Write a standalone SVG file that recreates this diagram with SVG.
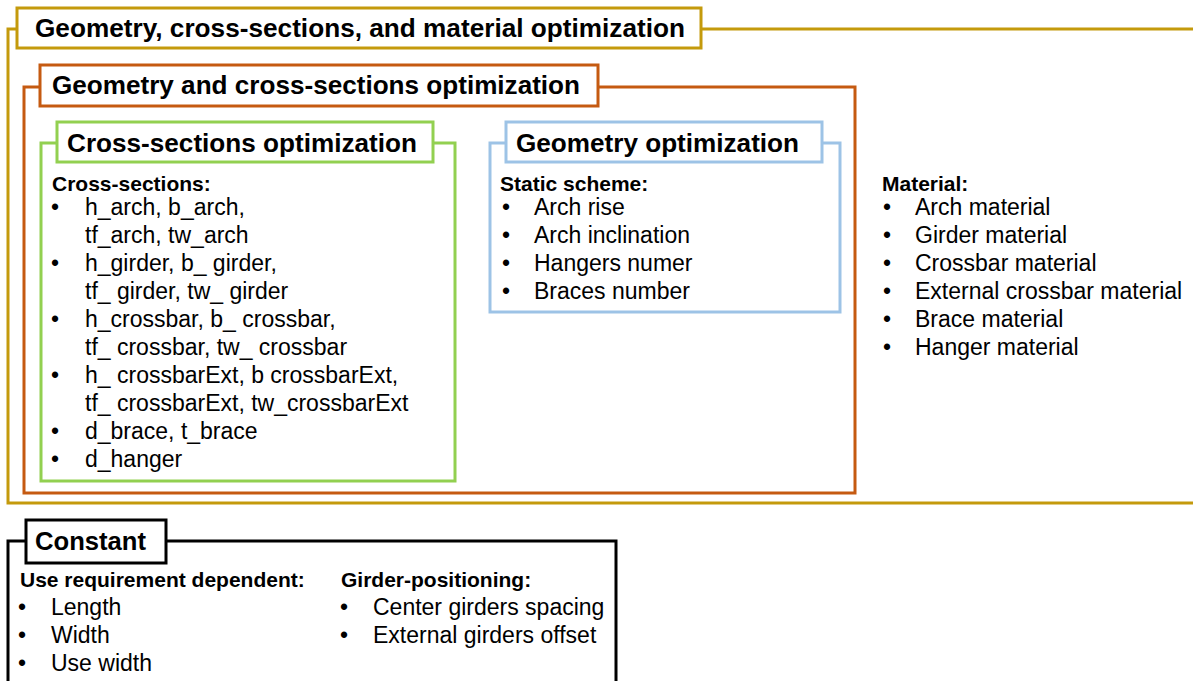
<svg xmlns="http://www.w3.org/2000/svg" width="1193" height="681" viewBox="0 0 1193 681">
<style>
.frame{fill:none;stroke-width:3}
.tbox{fill:#fff;stroke-width:3}
.gold{stroke:#C49A0C}
.orange{stroke:#C55A11}
.green{stroke:#92D050}
.blue{stroke:#9DC3E6}
.black{stroke:#000}
.title{font-family:"Liberation Sans",Arial,sans-serif;font-weight:bold;font-size:26px;fill:#000}
.head{font-family:"Liberation Sans",Arial,sans-serif;font-weight:bold;font-size:21px;fill:#000}
.body{font-family:"Liberation Sans",Arial,sans-serif;font-size:23px;fill:#000}
</style>
<rect width="1193" height="681" fill="#fff"/>
<g id="outer">
<rect class="frame gold" x="8" y="29" width="1200" height="474"/>
<rect class="tbox gold" x="17" y="8" width="684" height="40"/>
<text class="title" x="35" y="37" textLength="650" lengthAdjust="spacingAndGlyphs">Geometry, cross-sections, and material optimization</text>
<text class="head" x="882" y="191">Material:</text>
<g class="body">
<text x="883" y="215">•</text><text x="915" y="215">Arch material</text>
<text x="883" y="243">•</text><text x="915" y="243">Girder material</text>
<text x="883" y="271">•</text><text x="915" y="271">Crossbar material</text>
<text x="883" y="299">•</text><text x="915" y="299">External crossbar material</text>
<text x="883" y="327">•</text><text x="915" y="327">Brace material</text>
<text x="883" y="355">•</text><text x="915" y="355">Hanger material</text>
</g>
</g>
<g id="geom-cross">
<rect class="frame orange" x="24" y="87" width="831" height="406"/>
<rect class="tbox orange" x="40" y="65" width="558" height="41"/>
<text class="title" x="52" y="94" textLength="528" lengthAdjust="spacingAndGlyphs">Geometry and cross-sections optimization</text>
</g>
<g id="cross">
<rect class="frame green" x="41" y="143" width="414" height="338"/>
<rect class="tbox green" x="57" y="122" width="376" height="40"/>
<text class="title" x="67" y="152" textLength="350" lengthAdjust="spacingAndGlyphs">Cross-sections optimization</text>
<text class="head" x="52" y="191">Cross-sections:</text>
<g class="body">
<text x="51" y="215">•</text><text x="85" y="215">h_arch, b_arch,</text>
<text x="85" y="243">tf_arch, tw_arch</text>
<text x="51" y="271">•</text><text x="85" y="271">h_girder, b_ girder,</text>
<text x="85" y="299">tf_ girder, tw_ girder</text>
<text x="51" y="327">•</text><text x="85" y="327">h_crossbar, b_ crossbar,</text>
<text x="85" y="355">tf_ crossbar, tw_ crossbar</text>
<text x="51" y="383">•</text><text x="85" y="383">h_ crossbarExt, b crossbarExt,</text>
<text x="85" y="411">tf_ crossbarExt, tw_crossbarExt</text>
<text x="51" y="439">•</text><text x="85" y="439">d_brace, t_brace</text>
<text x="51" y="467">•</text><text x="85" y="467">d_hanger</text>
</g>
</g>
<g id="geom">
<rect class="frame blue" x="490" y="143" width="350" height="169"/>
<rect class="tbox blue" x="506" y="122" width="316" height="40"/>
<text class="title" x="516" y="152" textLength="283" lengthAdjust="spacingAndGlyphs">Geometry optimization</text>
<text class="head" x="500" y="191">Static scheme:</text>
<g class="body">
<text x="502" y="215">•</text><text x="534" y="215">Arch rise</text>
<text x="502" y="243">•</text><text x="534" y="243">Arch inclination</text>
<text x="502" y="271">•</text><text x="534" y="271">Hangers numer</text>
<text x="502" y="299">•</text><text x="534" y="299">Braces number</text>
</g>
</g>
<g id="constant">
<rect class="frame black" x="8" y="541" width="608" height="160"/>
<rect class="tbox black" x="26" y="520" width="140" height="43"/>
<text class="title" x="35" y="550" textLength="111" lengthAdjust="spacingAndGlyphs">Constant</text>
<text class="head" x="20" y="587">Use requirement dependent:</text>
<text class="head" x="341" y="587">Girder-positioning:</text>
<g class="body">
<text x="18" y="615">•</text><text x="51" y="615">Length</text>
<text x="18" y="643">•</text><text x="51" y="643">Width</text>
<text x="18" y="671">•</text><text x="51" y="671">Use width</text>
<text x="340" y="615">•</text><text x="373" y="615">Center girders spacing</text>
<text x="340" y="643">•</text><text x="373" y="643">External girders offset</text>
</g>
</g>
<g id="connectors"></g>
</svg>
